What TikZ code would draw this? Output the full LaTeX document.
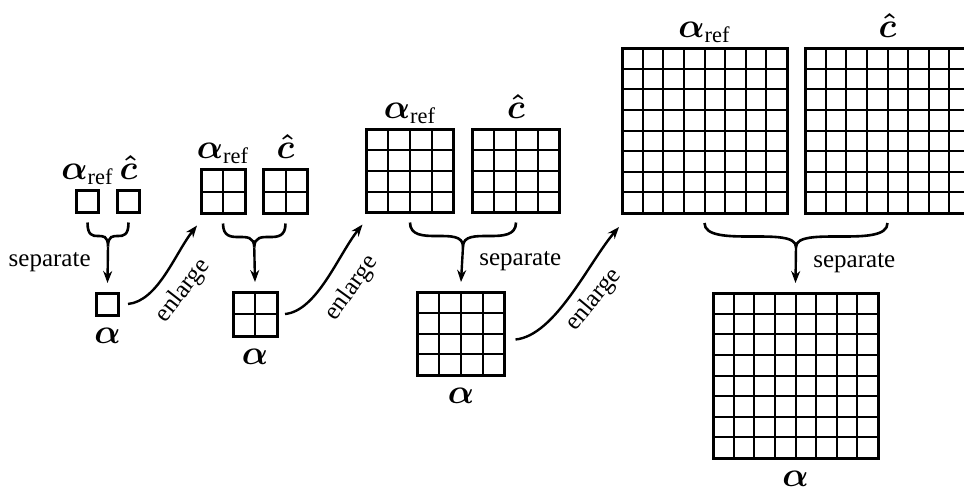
\documentclass[tikz,border=0pt]{standalone}
\usepackage{amsmath}
\usepackage{fontspec}
\setmainfont{Liberation Serif}
\usetikzlibrary{arrows.meta,calc}

% inner lines of an n x n cell grid drawn inside a box node
\newcommand\gridlines[2]{%
  \foreach \k in {1,...,#2}{%
    \ifnum\k<#2
      \draw[cellline] ($(#1.north west)!{\k/#2}!(#1.north east)$) -- ($(#1.south west)!{\k/#2}!(#1.south east)$);
      \draw[cellline] ($(#1.north west)!{\k/#2}!(#1.south west)$) -- ($(#1.north east)!{\k/#2}!(#1.south east)$);
    \fi}}

% a curly "merge" brace under two boxes with an arrow to the result box
\newcommand\mergebrace[4]{% left box, right box, result box, name of the tip
  \coordinate (#4l) at ([yshift=-5pt]#1.south);
  \coordinate (#4r) at ([yshift=-5pt]#2.south);
  \coordinate (#4) at ($(#4l)!0.5!(#4r)+(0,24)$);
  \draw[bracestroke] (#4l) .. controls +(0,26) and +(0,-22) .. (#4) .. controls +(0,-22) and +(0,26) .. (#4r);
  \draw[flow] (#4) -- ([yshift=5pt]#3.north);}

\begin{document}
\begin{tikzpicture}[x=0.5pt,y=-0.5pt,
  cellbox/.style={draw, line width=1.5pt, inner sep=0pt, outer sep=0pt},
  cellline/.style={line width=1pt},
  flow/.style={line width=1.2pt, -{Stealth[length=6pt,width=4.5pt]}},
  bracestroke/.style={line width=1.3pt},
  lbl/.style={font=\fontsize{12.5}{14}\selectfont, inner sep=0pt},
  sym/.style={font=\fontsize{16}{19}\selectfont, inner sep=0pt}]

\useasboundingbox (0,0) rectangle (964,488);
\fill[white] (0,0) rectangle (964,488);
\clip (0,0) rectangle (964,488);

% stage 1: single cells
\node[cellbox, minimum size=11pt] (aref1) at (87.5,201.5) {};
\node[cellbox, minimum size=11pt] (c1) at (128.5,201.5) {};
\node[cellbox, minimum size=11pt] (al1) at (107.5,304) {};

% stage 2: 2x2
\node[cellbox, minimum size=22pt] (aref2) at (223,191.5) {};
\node[cellbox, minimum size=22pt] (c2) at (285.5,191.5) {};
\node[cellbox, minimum size=22pt] (al2) at (255,314) {};
\gridlines{aref2}{2}\gridlines{c2}{2}\gridlines{al2}{2}

% stage 3: 4x4
\node[cellbox, minimum width=43.5pt, minimum height=41.5pt] (aref3) at (410,171) {};
\node[cellbox, minimum width=43.5pt, minimum height=41.5pt] (c3) at (516,171) {};
\node[cellbox, minimum width=43.5pt, minimum height=41.5pt] (al3) at (461,333.5) {};
\gridlines{aref3}{4}\gridlines{c3}{4}\gridlines{al3}{4}

% stage 4: 8x8
\node[cellbox, minimum size=82.5pt] (aref4) at (704.5,130.5) {};
\node[cellbox, minimum size=82.5pt] (c4) at (887.5,130.5) {};
\node[cellbox, minimum size=82.5pt] (al4) at (795.5,375.5) {};
\gridlines{aref4}{8}\gridlines{c4}{8}\gridlines{al4}{8}

% symbols above and below the boxes
\foreach \s in {1,2,3,4}{
  \node[sym, anchor=base] (laref\s) at ([yshift=5.5pt]aref\s.north) {$\boldsymbol{\alpha}_{\text{ref}}$};
  \node[sym, anchor=base] (lc\s) at ([yshift=5.5pt]c\s.north) {$\boldsymbol{\hat{c}}$};
  \node[sym, anchor=base] (lal\s) at ([yshift=-14pt]al\s.south) {$\boldsymbol{\alpha}$};
}

% separation steps
\mergebrace{aref1}{c1}{al1}{m1}
\mergebrace{aref2}{c2}{al2}{m2}
\mergebrace{aref3}{c3}{al3}{m3}
\mergebrace{aref4}{c4}{al4}{m4}
\node[lbl, anchor=east] (sep1) at ($(m1)+(-17,16)$) {separate};
\node[lbl, anchor=west] (sep3) at ($(m3)+(16,15)$) {separate};
\node[lbl, anchor=west] (sep4) at ($(m4)+(17,16)$) {separate};

% enlargement steps
\draw[flow] ([xshift=4.75pt]al1.east) .. controls +(30,-3) and +(-22,28) .. ([xshift=-2pt,yshift=-6pt]aref2.south west);
\draw[flow] ([xshift=4pt]al2.east) .. controls +(32,-3) and +(-24,30) .. ([xshift=-2pt,yshift=-6pt]aref3.south west);
\draw[flow] ([xshift=5.5pt,yshift=-3pt]al3.east) .. controls +(40,-4) and +(-30,35) .. ([xshift=-1.5pt,yshift=-7pt]aref4.south west);
\node[lbl, rotate=52] (en1) at (183,291) {enlarge};
\node[lbl, rotate=54] (en2) at (352,288) {enlarge};
\node[lbl, rotate=50] (en3) at (594,300) {enlarge};
\end{tikzpicture}
\end{document}
